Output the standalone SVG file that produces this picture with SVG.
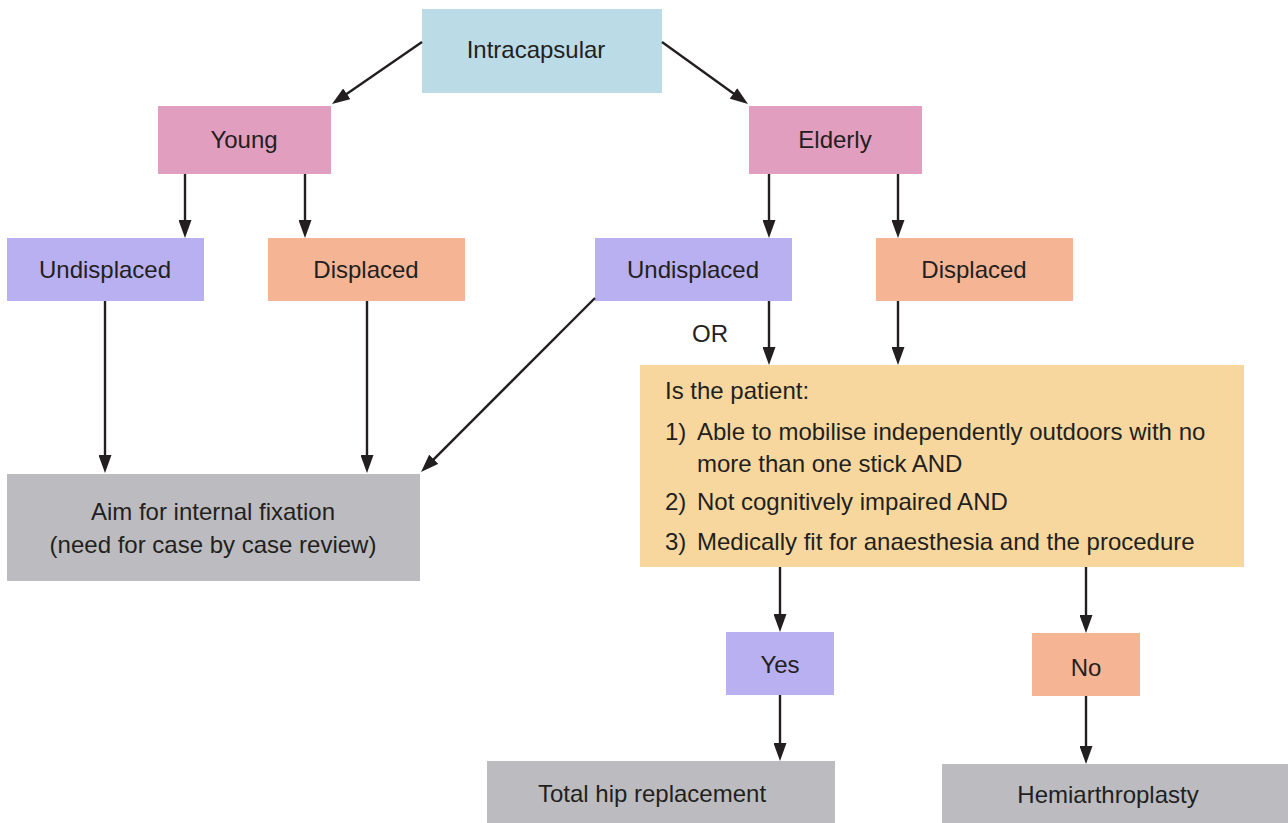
<svg xmlns="http://www.w3.org/2000/svg" width="1288" height="823" viewBox="0 0 1288 823">
<style>
text{font-family:"Liberation Sans",Arial,Helvetica,sans-serif;font-size:24px;fill:#231f20}
.c{text-anchor:middle}
.blue{fill:#bbdbe6}.pink{fill:#e29ebf}.lav{fill:#b9b0f2}.sal{fill:#f5b595}.grey{fill:#bcbcc0}.yel{fill:#f7d79e}
.ln{stroke:#231f20;stroke-width:2.4;fill:none;marker-end:url(#ah)}
</style>
<defs>
<marker id="ah" viewBox="0 0 18 13" refX="10" refY="6.5" markerWidth="18" markerHeight="13" markerUnits="userSpaceOnUse" orient="auto">
<path d="M0,0 L18,6.5 L0,13 z" fill="#231f20"/>
</marker>
</defs>
<rect width="1288" height="823" fill="#fff"/>
<g id="intracapsular"><rect class="blue" x="422" y="9" width="240" height="84"/><text class="c" x="536" y="58">Intracapsular</text></g>
<g id="young"><rect class="pink" x="158" y="106" width="173" height="68"/><text class="c" x="244" y="148">Young</text></g>
<g id="elderly"><rect class="pink" x="749" y="106" width="173" height="68"/><text class="c" x="835" y="148">Elderly</text></g>
<g id="undisplaced-young"><rect class="lav" x="7" y="238" width="197" height="63"/><text class="c" x="105" y="278">Undisplaced</text></g>
<g id="displaced-young"><rect class="sal" x="268" y="238" width="197" height="63"/><text class="c" x="366" y="278">Displaced</text></g>
<g id="undisplaced-elderly"><rect class="lav" x="595" y="238" width="197" height="63"/><text class="c" x="693" y="278">Undisplaced</text></g>
<g id="displaced-elderly"><rect class="sal" x="876" y="238" width="197" height="63"/><text class="c" x="974" y="278">Displaced</text></g>
<g id="fixation"><rect class="grey" x="7" y="474" width="413" height="107"/><text class="c" x="213" y="520">Aim for internal fixation</text><text class="c" x="213" y="553">(need for case by case review)</text></g>
<g id="question"><rect class="yel" x="640" y="365" width="604" height="202"/>
<text x="665" y="399">Is the patient:</text>
<text x="665" y="440">1)</text><text x="697" y="440">Able to mobilise independently outdoors with no</text>
<text x="697" y="472">more than one stick AND</text>
<text x="665" y="510">2)</text><text x="697" y="510">Not cognitively impaired AND</text>
<text x="665" y="550">3)</text><text x="697" y="550">Medically fit for anaesthesia and the procedure</text>
</g>
<g id="yes"><rect class="lav" x="726" y="632" width="108" height="63"/><text class="c" x="780" y="673">Yes</text></g>
<g id="no"><rect class="sal" x="1032" y="633" width="108" height="63"/><text class="c" x="1086" y="676">No</text></g>
<g id="thr"><rect class="grey" x="487" y="761" width="348" height="62"/><text class="c" x="652" y="802">Total hip replacement</text></g>
<g id="hemi"><rect class="grey" x="942" y="764" width="346" height="59"/><text class="c" x="1108" y="803">Hemiarthroplasty</text></g>
<g id="or-label"><text x="692" y="342">OR</text></g>
<g id="connectors">
<path class="ln" d="M422,42 L338.6,99.5"/>
<path class="ln" d="M662,42 L741.5,99.3"/>
<path class="ln" d="M185,174 V230"/>
<path class="ln" d="M305,174 V230"/>
<path class="ln" d="M769,174 V230"/>
<path class="ln" d="M898,174 V230"/>
<path class="ln" d="M105,301 V465"/>
<path class="ln" d="M367,301 V465"/>
<path class="ln" d="M595,298 L426.7,466.3"/>
<path class="ln" d="M769,301 V357"/>
<path class="ln" d="M898,301 V357"/>
<path class="ln" d="M780,567 V624"/>
<path class="ln" d="M1086,567 V625"/>
<path class="ln" d="M780,695 V753"/>
<path class="ln" d="M1086,696 V756"/>
</g>
</svg>
